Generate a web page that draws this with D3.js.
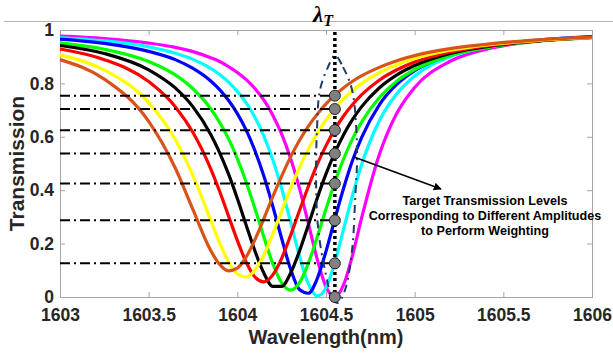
<!DOCTYPE html>
<html>
<head>
<meta charset="utf-8">
<script src="https://cdn.jsdelivr.net/npm/d3@7"></script>
<style>
  html, body { margin: 0; padding: 0; background: #fff; }
  svg { display: block; }
</style>
</head>
<body>
<div id="chart"></div>
<script>
// sampled wavelength grid (nm) shared by all curves
const wavelengths = [1603.0, 1603.25, 1603.5, 1603.65, 1603.75, 1603.85, 1603.9, 1603.95, 1604.0, 1604.05,
  1604.1, 1604.15, 1604.2, 1604.25, 1604.3, 1604.35, 1604.4, 1604.45, 1604.5, 1604.55,
  1604.6, 1604.65, 1604.7, 1604.8, 1604.9, 1605.0, 1605.2, 1605.45, 1605.7, 1606.0];

// transmission of each resonance
const brownT = [0.889, 0.816, 0.658, 0.483, 0.327, 0.174, 0.122, 0.098, 0.108, 0.150, 0.216, 0.294, 0.376, 0.453, 0.524,
  0.586, 0.639, 0.684, 0.723, 0.756, 0.784, 0.808, 0.828, 0.860, 0.885, 0.904, 0.930, 0.950, 0.963, 0.973];
const yellowT = [0.907, 0.850, 0.728, 0.590, 0.454, 0.287, 0.203, 0.132, 0.086, 0.075, 0.101, 0.158, 0.236, 0.321, 0.406,
  0.484, 0.553, 0.612, 0.663, 0.706, 0.742, 0.773, 0.799, 0.840, 0.870, 0.893, 0.924, 0.947, 0.961, 0.972];
const redT = [0.929, 0.889, 0.807, 0.713, 0.616, 0.480, 0.396, 0.304, 0.212, 0.130, 0.074, 0.057, 0.083, 0.145, 0.230,
  0.323, 0.413, 0.496, 0.567, 0.628, 0.679, 0.721, 0.757, 0.812, 0.851, 0.880, 0.917, 0.944, 0.960, 0.972];
const blackT = [0.942, 0.912, 0.851, 0.783, 0.712, 0.609, 0.541, 0.461, 0.369, 0.269, 0.171, 0.089, 0.040, 0.040, 0.089,
  0.171, 0.269, 0.369, 0.461, 0.541, 0.609, 0.665, 0.712, 0.783, 0.832, 0.867, 0.912, 0.942, 0.959, 0.972];
const greenT = [0.952, 0.928, 0.882, 0.832, 0.780, 0.705, 0.654, 0.593, 0.518, 0.430, 0.330, 0.224, 0.125, 0.053, 0.026,
  0.053, 0.125, 0.224, 0.330, 0.430, 0.518, 0.593, 0.654, 0.746, 0.809, 0.852, 0.905, 0.939, 0.958, 0.971];
const blueT = [0.966, 0.950, 0.920, 0.889, 0.856, 0.809, 0.777, 0.737, 0.687, 0.625, 0.547, 0.452, 0.340, 0.219, 0.105,
  0.028, 0.014, 0.068, 0.171, 0.292, 0.409, 0.512, 0.596, 0.719, 0.797, 0.848, 0.908, 0.944, 0.962, 0.975];
const cyanT = [0.972, 0.959, 0.937, 0.913, 0.890, 0.856, 0.833, 0.805, 0.770, 0.727, 0.672, 0.602, 0.514, 0.406, 0.282,
  0.154, 0.050, 0.004, 0.035, 0.130, 0.256, 0.382, 0.494, 0.659, 0.762, 0.828, 0.900, 0.941, 0.962, 0.975];
const magentaT = [0.977, 0.968, 0.951, 0.935, 0.919, 0.896, 0.882, 0.863, 0.841, 0.814, 0.780, 0.737, 0.681, 0.610, 0.520,
  0.408, 0.277, 0.143, 0.038, 0.000, 0.047, 0.158, 0.294, 0.532, 0.689, 0.785, 0.883, 0.935, 0.959, 0.974];

// target wavelength and the transmission levels picked there
const lambdaT = 1604.55;
const targetLevels = [0.754, 0.704, 0.625, 0.537, 0.425, 0.287, 0.126, 0.0];

// dash-dot envelope around lambda_T (closed loop)
const envLambda = [1604.551, 1604.596, 1604.647, 1604.675, 1604.664, 1604.647, 1604.607, 1604.567,
  1604.540, 1604.494, 1604.455, 1604.444, 1604.449, 1604.466, 1604.511];
const envT = [0.905, 0.861, 0.775, 0.551, 0.363, 0.176, 0.026, -0.022,
  -0.011, 0.101, 0.262, 0.438, 0.625, 0.775, 0.861];

const xTicks = [1603, 1603.5, 1604, 1604.5, 1605, 1605.5, 1606];
const yTicks = [0, 0.2, 0.4, 0.6, 0.8, 1];

const annotationLines = ["Target Transmission Levels", "Corresponding to Different Amplitudes", "to Perform Weighting"];

// drawn bottom to top: magenta first, brown last
const series = [
  { name: "magenta", values: magentaT, color: "#FF00FF" },
  { name: "cyan", values: cyanT, color: "#00FFFF" },
  { name: "blue", values: blueT, color: "#0000FF" },
  { name: "green", values: greenT, color: "#00FF00" },
  { name: "black", values: blackT, color: "#000000" },
  { name: "red", values: redT, color: "#FF0000" },
  { name: "yellow", values: yellowT, color: "#FFFF00" },
  { name: "brown", values: brownT, color: "#D95319" }
];

const width = 613, height = 354;
const margin = { top: 30, right: 21, bottom: 57, left: 60 };
const textColor = "#262626";
const axisColor = "#a6a6a6";
const sans = "'Liberation Sans', Arial, Helvetica, sans-serif";

const svg = d3.select("#chart").append("svg")
  .attr("width", width)
  .attr("height", height);

const x = d3.scaleLinear().domain([1603, 1606]).range([margin.left, width - margin.right]);
const y = d3.scaleLinear().domain([0, 1]).range([height - margin.bottom, margin.top]);

// stray figure border line at the top
svg.append("line")
  .attr("x1", 4).attr("x2", width)
  .attr("y1", 21.5).attr("y2", 21.5)
  .attr("stroke", "#b4b4b4").attr("stroke-width", 1);

// axes (ticks point inward)
const styleAxis = g => {
  g.select(".domain").remove();
  g.selectAll(".tick line").attr("stroke", axisColor);
  g.selectAll(".tick text")
    .attr("fill", textColor)
    .style("font-family", sans)
    .style("font-size", "17.5px")
    .style("font-weight", "bold");
};

svg.append("g")
  .attr("transform", `translate(0,${y(0)})`)
  .call(d3.axisBottom(x).tickValues(xTicks).tickFormat(d3.format("")).tickSizeInner(-5).tickSizeOuter(0).tickPadding(12))
  .call(styleAxis);

svg.append("g")
  .attr("transform", `translate(0,${y(1)})`)
  .call(d3.axisTop(x).tickValues(xTicks).tickFormat("").tickSizeInner(-5).tickSizeOuter(0))
  .call(styleAxis);

svg.append("g")
  .attr("transform", `translate(${x(1603)},0)`)
  .call(d3.axisLeft(y).tickValues(yTicks).tickFormat(d3.format("")).tickSizeInner(-5).tickSizeOuter(0).tickPadding(6))
  .call(styleAxis);

svg.append("g")
  .attr("transform", `translate(${x(1606)},0)`)
  .call(d3.axisRight(y).tickValues(yTicks).tickFormat("").tickSizeInner(-5).tickSizeOuter(0))
  .call(styleAxis);

svg.append("rect")
  .attr("x", x(1603) + 0.5).attr("y", y(1) + 0.5)
  .attr("width", x(1606) - x(1603)).attr("height", y(0) - y(1))
  .attr("fill", "none").attr("stroke", axisColor).attr("stroke-width", 1);

// axis titles
svg.append("text")
  .attr("x", (x(1603) + x(1606)) / 2)
  .attr("y", 344)
  .attr("text-anchor", "middle")
  .attr("fill", textColor)
  .style("font-family", sans).style("font-size", "20px").style("font-weight", "bold")
  .text("Wavelength(nm)");

svg.append("text")
  .attr("transform", `translate(24,${(y(0) + y(1)) / 2}) rotate(-90)`)
  .attr("text-anchor", "middle")
  .attr("fill", textColor)
  .style("font-family", sans).style("font-size", "21px").style("font-weight", "bold")
  .text("Transmission");

// resonance curves
const line = d3.line()
  .x((d, i) => x(wavelengths[i]))
  .y(d => y(d))
  .curve(d3.curveMonotoneX);

svg.append("g").attr("class", "curves")
  .selectAll("path")
  .data(series)
  .join("path")
  .attr("d", d => line(d.values))
  .attr("fill", "none")
  .attr("stroke", d => d.color)
  .attr("stroke-width", 3.2);

// dash-dot level lines
svg.append("g").attr("class", "levels")
  .selectAll("line")
  .data(targetLevels.slice(0, -1))
  .join("line")
  .attr("x1", x(1603)).attr("x2", x(lambdaT) - 4)
  .attr("y1", d => y(d)).attr("y2", d => y(d))
  .attr("stroke", "#000")
  .attr("stroke-width", 2)
  .attr("stroke-dasharray", "10,4,2,4");

// envelope around lambda_T
const envLine = d3.line()
  .x((d, i) => x(envLambda[i]))
  .y(d => y(d))
  .curve(d3.curveCatmullRomClosed);

svg.append("path")
  .attr("d", envLine(envT))
  .attr("fill", "none")
  .attr("stroke", "#1F3A68")
  .attr("stroke-width", 2)
  .attr("stroke-dasharray", "8,5,2,5");

// dotted vertical line at lambda_T
svg.append("line")
  .attr("x1", x(lambdaT)).attr("x2", x(lambdaT))
  .attr("y1", y(1) + 2).attr("y2", y(0))
  .attr("stroke", "#000")
  .attr("stroke-width", 3.5)
  .attr("stroke-dasharray", "3,3");

// markers at the picked levels
svg.append("g").attr("class", "dots")
  .selectAll("circle")
  .data(targetLevels)
  .join("circle")
  .attr("cx", x(lambdaT))
  .attr("cy", d => y(d))
  .attr("r", 5.5)
  .attr("fill", "#808080")
  .attr("stroke", "#222")
  .attr("stroke-width", 1);

// lambda_T label
const lam = svg.append("text")
  .attr("x", 313).attr("y", 22)
  .attr("fill", "#000")
  .style("font-family", "'Liberation Serif', 'DejaVu Serif', serif")
  .style("font-style", "italic").style("font-weight", "bold")
  .style("font-size", "23px");
lam.append("tspan").text("λ");
lam.append("tspan").attr("dy", 4).style("font-size", "16px").text("T");

// annotation arrow and text
svg.append("defs").append("marker")
  .attr("id", "arrow")
  .attr("viewBox", "0 0 10 10")
  .attr("refX", 9).attr("refY", 5)
  .attr("markerWidth", 8).attr("markerHeight", 8)
  .attr("markerUnits", "userSpaceOnUse")
  .attr("orient", "auto")
  .append("path")
  .attr("d", "M0,0 L10,5 L0,10 Z")
  .attr("fill", "#000");

svg.append("line")
  .attr("x1", 354).attr("y1", 157)
  .attr("x2", 441).attr("y2", 189)
  .attr("stroke", "#000")
  .attr("stroke-width", 1.5)
  .attr("marker-end", "url(#arrow)");

svg.append("text")
  .attr("text-anchor", "middle")
  .attr("fill", "#000")
  .style("font-family", sans).style("font-size", "12.6px").style("font-weight", "bold")
  .selectAll("tspan")
  .data(annotationLines)
  .join("tspan")
  .attr("x", 485)
  .attr("y", (d, i) => 205 + i * 15)
  .text(d => d);
</script>
</body>
</html>
